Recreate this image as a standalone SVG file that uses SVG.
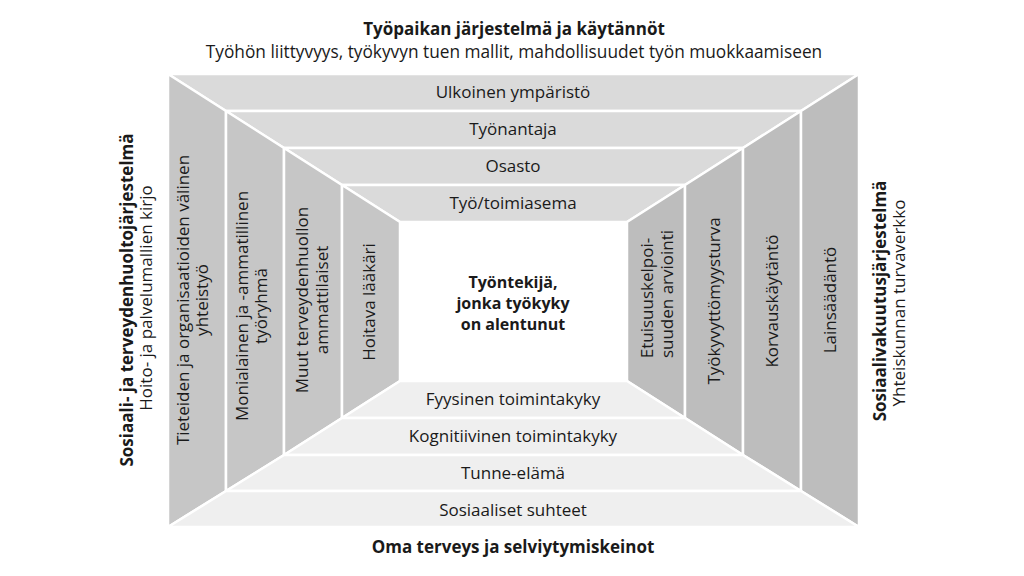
<svg xmlns="http://www.w3.org/2000/svg" width="1024" height="576" viewBox="0 0 1024 576">
<style>
  .top { fill: #dadada; stroke: #ffffff; stroke-width: 2.5; stroke-linejoin: round; }
  .lw { fill: #c6c6c6; stroke: #ffffff; stroke-width: 2.5; stroke-linejoin: round; }
  .rw { fill: #bdbdbd; stroke: #ffffff; stroke-width: 2.5; stroke-linejoin: round; }
  .bot { fill: #efefef; stroke: #ffffff; stroke-width: 2.5; stroke-linejoin: round; }
  text { font-family: "Open Sans", "DejaVu Sans", sans-serif; font-size: 17px; fill: #1a1a1a; text-anchor: middle; }
  .b { font-weight: bold; }
  .c { font-size: 16px; }
</style>
<rect width="1024" height="576" fill="#ffffff"/>

<g id="title">
  <text class="b" x="514" y="35">Työpaikan järjestelmä ja käytännöt</text>
  <text x="514" y="58" style="font-size:17.3px">Työhön liittyvyys, työkyvyn tuen mallit, mahdollisuudet työn muokkaamiseen</text>
</g>
<g id="bottom-title">
  <text class="b" x="513" y="553">Oma terveys ja selviytymiskeinot</text>
</g>
<g id="left-title">
  <text class="b" transform="translate(133,300) rotate(-90)">Sosiaali- ja terveydenhuoltojärjestelmä</text>
  <text transform="translate(152,298) rotate(-90)">Hoito- ja palvelumallien kirjo</text>
</g>
<g id="right-title">
  <text class="b" transform="translate(886,301) rotate(-90)">Sosiaalivakuutusjärjestelmä</text>
  <text transform="translate(905,303) rotate(-90)">Yhteiskunnan turvaverkko</text>
</g>

<g id="ulkoinen">
  <polygon class="top" points="168,74 859,74 801,111 226,111"/>
  <text x="513" y="98">Ulkoinen ympäristö</text>
</g>
<g id="tyonantaja">
  <polygon class="top" points="226,111 801,111 743,148 284,148"/>
  <text x="513" y="135">Työnantaja</text>
</g>
<g id="osasto">
  <polygon class="top" points="284,148 743,148 685,185 342,185"/>
  <text x="513" y="172">Osasto</text>
</g>
<g id="toimiasema">
  <polygon class="top" points="342,185 685,185 627,222 400,222"/>
  <text x="513" y="209">Työ/toimiasema</text>
</g>

<g id="tieteiden">
  <polygon class="lw" points="168,74 226,111 226,491 168,527"/>
  <text transform="translate(189,300) rotate(-90)">Tieteiden ja organisaatioiden välinen</text>
  <text transform="translate(208,300) rotate(-90)">yhteistyö</text>
</g>
<g id="monialainen">
  <polygon class="lw" points="226,111 284,148 284,455 226,491"/>
  <text transform="translate(248,306) rotate(-90)">Monialainen ja -ammatillinen</text>
  <text transform="translate(267,306) rotate(-90)">työryhmä</text>
</g>
<g id="muut">
  <polygon class="lw" points="284,148 342,185 342,418 284,455"/>
  <text transform="translate(308,300) rotate(-90)">Muut terveydenhuollon</text>
  <text transform="translate(328,300) rotate(-90)">ammattilaiset</text>
</g>
<g id="hoitava">
  <polygon class="lw" points="342,185 400,222 400,381 342,418"/>
  <text transform="translate(375,302) rotate(-90)">Hoitava lääkäri</text>
</g>

<g id="etuisuus">
  <polygon class="rw" points="685,185 627,222 627,381 685,418"/>
  <text transform="translate(653,298) rotate(-90)">Etuisuuskelpoi-</text>
  <text transform="translate(673,294) rotate(-90)">suuden arviointi</text>
</g>
<g id="tyokyvyttomyysturva">
  <polygon class="rw" points="743,148 685,185 685,418 743,455"/>
  <text transform="translate(720,301) rotate(-90)">Työkyvyttömyysturva</text>
</g>
<g id="korvauskaytanto">
  <polygon class="rw" points="801,111 743,148 743,455 801,491"/>
  <text transform="translate(778,301) rotate(-90)">Korvauskäytäntö</text>
</g>
<g id="lainsaadanto">
  <polygon class="rw" points="859,74 801,111 801,491 859,527"/>
  <text transform="translate(836,300) rotate(-90)">Lainsäädäntö</text>
</g>

<g id="fyysinen">
  <polygon class="bot" points="400,381 627,381 685,418 342,418"/>
  <text x="513" y="405">Fyysinen toimintakyky</text>
</g>
<g id="kognitiivinen">
  <polygon class="bot" points="342,418 685,418 743,455 284,455"/>
  <text x="513" y="442">Kognitiivinen toimintakyky</text>
</g>
<g id="tunne">
  <polygon class="bot" points="284,455 743,455 801,491 226,491"/>
  <text x="513" y="479">Tunne-elämä</text>
</g>
<g id="sosiaaliset">
  <polygon class="bot" points="226,491 801,491 859,527 168,527"/>
  <text x="513" y="516">Sosiaaliset suhteet</text>
</g>

<g id="tyontekija">
  <text class="b c" x="513" y="288">Työntekijä,</text>
  <text class="b c" x="513" y="309">jonka työkyky</text>
  <text class="b c" x="513" y="330">on alentunut</text>
</g>
<g id="connectors"></g>
</svg>
